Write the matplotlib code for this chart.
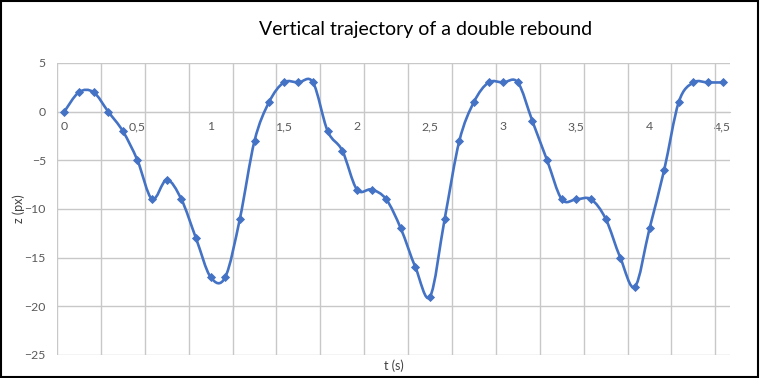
import numpy as np
import matplotlib
matplotlib.use('Agg')
import matplotlib.pyplot as plt
from matplotlib.path import Path
from matplotlib.patches import PathPatch, Rectangle

# time samples every 0.1 s, shown as categories
t_labels = ['0', '0,5', '1', '1,5', '2', '2,5', '3', '3,5', '4', '4,5']
z = [0, 2, 2, 0, -2, -5, -9, -7, -9, -13,
     -17, -17, -11, -3, 1, 3, 3, 3, -2, -4,
     -8, -8, -9, -12, -16, -19, -11, -3, 1, 3,
     3, 3, -1, -5, -9, -9, -9, -11, -15, -18,
     -12, -6, 1, 3, 3, 3]

blue = '#4472C4'
grid_col = '#C8C8C8'
text_col = '#595959'

plt.rcParams['font.family'] = ['Lato', 'DejaVu Sans']

fig = plt.figure(figsize=(7.6, 3.78), dpi=100)
ax = fig.add_axes([57 / 760, 23 / 378, 673 / 760, 292 / 378])

x = np.arange(len(z))
y = np.array(z, dtype=float)

# smoothed line (Excel-like bezier through points)
pts = np.column_stack([x, y])
n = len(pts)
verts = [pts[0]]
codes = [Path.MOVETO]
for i in range(n - 1):
    p0 = pts[max(i - 1, 0)]
    p1 = pts[i]
    p2 = pts[i + 1]
    p3 = pts[min(i + 2, n - 1)]
    c1 = p1 + (p2 - p0) / 6.0
    c2 = p2 - (p3 - p1) / 6.0
    verts += [c1, c2, p2]
    codes += [Path.CURVE4] * 3
ax.add_patch(PathPatch(Path(verts, codes), facecolor='none', edgecolor=blue,
                       lw=1.9, capstyle='round', joinstyle='round', zorder=3))
ax.plot(x, y, linestyle='none', marker='D', markersize=4, markeredgewidth=0.6,
        color=blue, zorder=4)

ax.set_xlim(-0.5, len(z) - 0.5)
ax.set_ylim(-25, 5)

ax.set_yticks(np.arange(-25, 6, 5))
ax.set_xticks(np.arange(0, len(z), 5))
ax.set_xticklabels(t_labels)
ax.set_xticks(np.arange(-0.5, len(z) - 1, 3), minor=True)

ax.grid(True, axis='y', which='major', color=grid_col, lw=1)
ax.grid(True, axis='x', which='minor', color=grid_col, lw=1)
ax.set_axisbelow(True)

for s in ['top', 'right', 'left']:
    ax.spines[s].set_visible(False)
ax.spines['bottom'].set_position(('data', 0))
ax.spines['bottom'].set_color(grid_col)

ax.tick_params(axis='both', which='both', length=0, labelsize=8.8, colors=text_col)
ax.tick_params(axis='y', pad=8)
ax.tick_params(axis='x', pad=7)

ax.set_xlabel('t (s)', fontsize=9, color='#404040')
ax.xaxis.set_label_coords(0.5, -0.015)
ax.set_ylabel('z (px)', fontsize=9, color='#404040')
ax.yaxis.set_label_coords(-0.048, 0.5)

fig.text(426 / 760, 1 - 30 / 378, 'Vertical trajectory of a double rebound',
         ha='center', va='center', fontsize=14, color='black')

fig.add_artist(Rectangle((0.001, 0.002), 0.997, 0.995, transform=fig.transFigure,
                         fill=False, edgecolor='black', lw=1.5))

fig.savefig('out.png', dpi=100)
